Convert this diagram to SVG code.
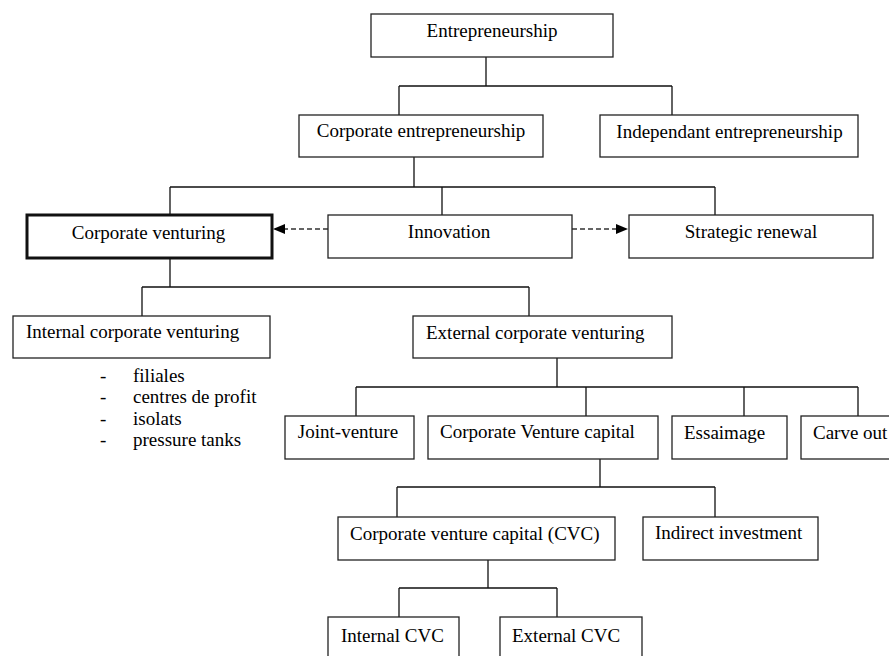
<svg xmlns="http://www.w3.org/2000/svg" width="889" height="656" viewBox="0 0 889 656">
<style>
.box{fill:#fff;stroke:#222;stroke-width:1.3}
.thick{fill:#fff;stroke:#111;stroke-width:3}
.lbl{font-family:"Liberation Serif","Times New Roman",serif;font-size:19px;fill:#000}
.mid{text-anchor:middle}
.ln{fill:none;stroke:#111;stroke-width:1.3}
.dash{fill:none;stroke:#333;stroke-width:1.3;stroke-dasharray:5 3}
</style>
<defs>
<marker id="ah" viewBox="0 0 12 10" refX="12" refY="5" markerWidth="12" markerHeight="10" markerUnits="userSpaceOnUse" orient="auto">
<path d="M0,0 L12,5 L0,10 Z" fill="#000"/>
</marker>
</defs>
<rect width="889" height="656" fill="#fff"/>
<g id="connectors">
<path class="ln" d="M486,57 V86 M399,86 H672 M399,86 V115 M672,86 V115"/>
<path class="ln" d="M414,157 V187 M170,187 H715 M170,187 V215 M442,187 V215 M715,187 V215"/>
<path class="ln" d="M170,258 V287 M142,287 H529 M142,287 V316 M529,287 V316"/>
<path class="ln" d="M557,358 V387 M356,387 H858 M356,387 V416 M586,387 V416 M744,387 V416 M858,387 V416"/>
<path class="ln" d="M600,459 V487 M397,487 H715 M397,487 V517 M715,487 V517"/>
<path class="ln" d="M488,560 V588 M399,588 H557 M399,588 V617 M557,588 V617"/>
<path class="dash" d="M328,229 H273" marker-end="url(#ah)"/>
<path class="dash" d="M572,229 H628" marker-end="url(#ah)"/>
</g>
<g id="n-entrepreneurship"><rect class="box" x="371" y="14" width="242" height="43"/><text class="lbl mid" x="492" y="37">Entrepreneurship</text></g>
<g id="n-corporate-entrepreneurship"><rect class="box" x="299" y="115" width="244" height="42"/><text class="lbl mid" x="421" y="137">Corporate entrepreneurship</text></g>
<g id="n-independant"><rect class="box" x="600" y="115" width="258" height="42"/><text class="lbl mid" x="729.5" y="138">Independant entrepreneurship</text></g>
<g id="n-corporate-venturing"><rect class="thick" x="27" y="215" width="245" height="43"/><text class="lbl mid" x="148.5" y="239">Corporate venturing</text></g>
<g id="n-innovation"><rect class="box" x="328" y="215" width="244" height="43"/><text class="lbl mid" x="449" y="238">Innovation</text></g>
<g id="n-strategic-renewal"><rect class="box" x="629" y="215" width="244" height="43"/><text class="lbl mid" x="751" y="238">Strategic renewal</text></g>
<g id="n-internal-cv"><rect class="box" x="13" y="316" width="257" height="42"/><text class="lbl" x="26" y="338">Internal corporate venturing</text></g>
<g id="n-internal-list">
<text class="lbl" x="100" y="382">-</text><text class="lbl" x="133" y="382">filiales</text>
<text class="lbl" x="100" y="403">-</text><text class="lbl" x="133" y="403">centres de profit</text>
<text class="lbl" x="100" y="424.5">-</text><text class="lbl" x="133" y="424.5">isolats</text>
<text class="lbl" x="100" y="446">-</text><text class="lbl" x="133" y="446">pressure tanks</text>
</g>
<g id="n-external-cv"><rect class="box" x="413" y="316" width="259" height="42"/><text class="lbl" x="426" y="339">External corporate venturing</text></g>
<g id="n-joint-venture"><rect class="box" x="285" y="416" width="129" height="43"/><text class="lbl mid" x="348" y="438">Joint-venture</text></g>
<g id="n-cvc-capital"><rect class="box" x="428" y="416" width="230" height="43"/><text class="lbl" x="440" y="438">Corporate Venture capital</text></g>
<g id="n-essaimage"><rect class="box" x="672" y="416" width="115" height="43"/><text class="lbl" x="684" y="439">Essaimage</text></g>
<g id="n-carve-out"><rect class="box" x="801" y="416" width="95" height="43"/><text class="lbl" x="813" y="439">Carve out</text></g>
<g id="n-cvc"><rect class="box" x="338" y="517" width="277" height="43"/><text class="lbl" x="350" y="540">Corporate venture capital (CVC)</text></g>
<g id="n-indirect"><rect class="box" x="643" y="517" width="175" height="43"/><text class="lbl" x="655" y="539">Indirect investment</text></g>
<g id="n-internal-cvc"><rect class="box" x="328" y="617" width="131" height="45"/><text class="lbl" x="341" y="642">Internal CVC</text></g>
<g id="n-external-cvc"><rect class="box" x="500" y="617" width="142" height="45"/><text class="lbl" x="512" y="642">External CVC</text></g>
</svg>
